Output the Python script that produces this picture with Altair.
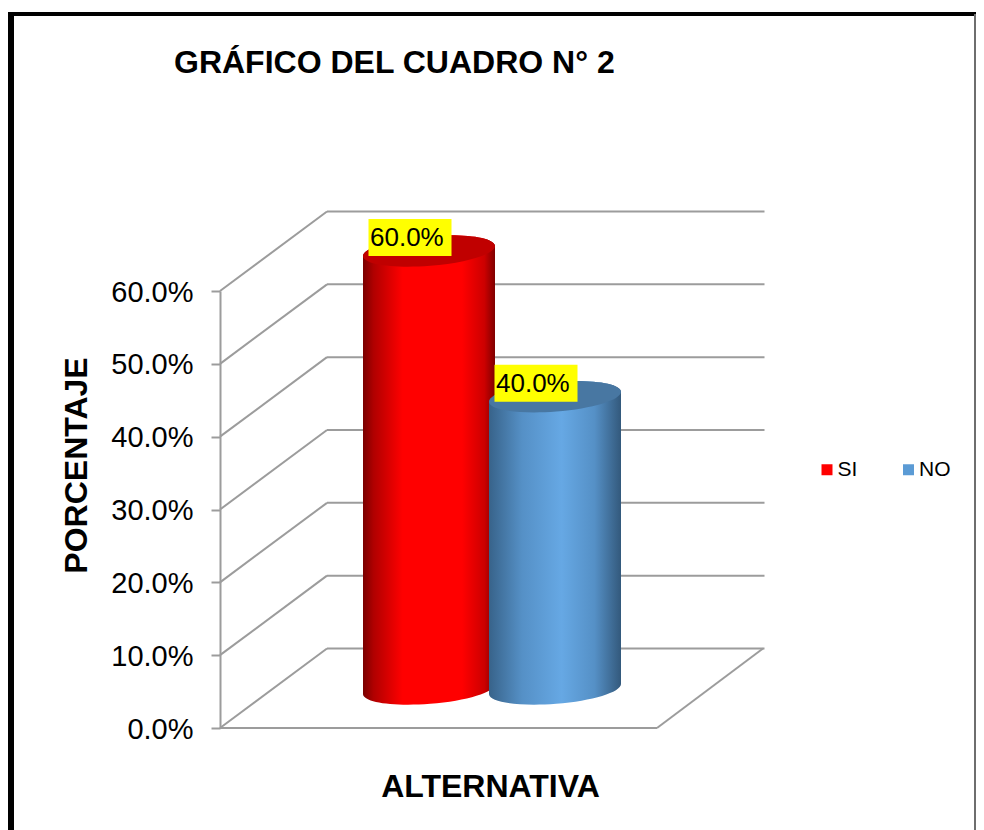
import altair as alt
import pandas as pd

categories = ["SI", "NO"]
values = [0.6, 0.4]
ticks = [0.0, 0.1, 0.2, 0.3, 0.4, 0.5, 0.6]
series_colors = ["#ff0000", "#5b9bd5"]
top_colors = ["#c00000", "#4877a2"]
gradient_stops = [
    [(0, "#7a0000"), (0.08, "#b00000"), (0.3, "#ff0000"), (0.75, "#ff0000"), (0.92, "#cc0000"), (1, "#800000")],
    [(0, "#38638a"), (0.25, "#5590c6"), (0.55, "#66a8e4"), (0.8, "#5590c6"), (1, "#33597c")],
]

W, H = 437, 437
DX, DY = 107, -79.5
FONT = "Liberation Sans"
GRID = "#9c9c9c"

df = pd.DataFrame({"cat": categories, "v": values, "base": [0.0, 0.0]})
grid = pd.DataFrame({"t": ticks})
zero = pd.DataFrame({"t": [0.0]})

x_scale = alt.Scale(type="point", padding=0, domain=categories, range=[209, 335])
y_scale = alt.Scale(domain=[0, 0.6], nice=False, zero=True)

x_axis = alt.Axis(
    labels=False, ticks=False, domain=False, grid=False, title="ALTERNATIVA",
    titleFont=FONT, titleFontSize=32, titleFontWeight="bold", titleColor="#000000",
    titleX=270, titleY=58, titleBaseline="middle", titleAlign="center",
)
y_axis = alt.Axis(
    values=ticks, format=".1%", grid=False, tickSize=9, tickColor=GRID, tickWidth=2,
    domainColor=GRID, domainWidth=2, labelFont=FONT, labelFontSize=29, labelColor="#000000",
    labelPadding=18, labelOffset=1, title="PORCENTAJE", titleFont=FONT, titleFontSize=32, titleFontWeight="bold",
    titleColor="#000000", titleX=-143.5, titleY=174, titleBaseline="middle", titleAlign="center",
)
x_enc = alt.X("cat:N", scale=x_scale, sort=categories, axis=x_axis)
y_enc = alt.Y("v:Q", scale=y_scale, axis=y_axis)


def rule(data, x0, x1, off0, off1, color=GRID, w=2):
    return alt.Chart(data).mark_rule(color=color, strokeWidth=w, yOffset=off0, y2Offset=off1).encode(
        x=alt.value(x0), x2=alt.value(x1),
        y=alt.Y("t:Q", scale=y_scale, axis=y_axis), y2=alt.Y2("t:Q"),
    )


back = rule(grid, DX, W + DX + 0.5, DY, DY)
left_wall = rule(grid, 0, DX, 0, DY)
floor_front = rule(zero, 0, W, 0, 0)
floor_right = rule(zero, W, W + DX - 1, 0, DY)

legend_bars = alt.Chart(df).mark_bar(size=130, yOffset=-34, y2Offset=-46).encode(
    x=x_enc,
    y=y_enc, y2=alt.Y2("base:Q"),
    color=alt.Color(
        "cat:N",
        scale=alt.Scale(domain=categories, range=series_colors),
        legend=alt.Legend(
            title=None, orient="none", legendX=596.5, legendY=168, direction="horizontal", columns=2,
            symbolType="square", symbolSize=121, symbolStrokeWidth=0, labelFont=FONT, labelFontSize=21,
            labelColor="#000000", columnPadding=40.5, labelOffset=0, padding=0,
        ),
    ),
)

TOP_ELLIPSE = "M-1,0.08 A1.003,0.226 -4.57 1,1 1,-0.08 A1.003,0.226 -4.57 1,1 -1,0.08 Z"
TOP_CAP = "M-1,0.08 A1.003,0.226 -4.57 1,1 1,-0.08 L1,0.2 L-1,0.2 Z"
BOTTOM_CAP = "M-1,-0.2 L1,-0.2 L1,-0.08 A1.003,0.226 -4.57 0,1 -1,0.08 Z"

layers = [back, left_wall, floor_front, floor_right, legend_bars]

for i, cat in enumerate(categories):
    grad = alt.Gradient(
        gradient="linear", x1=0, x2=1, y1=0, y2=0,
        stops=[alt.GradientStop(offset=o, color=c) for o, c in gradient_stops[i]],
    )
    sub = alt.Chart(df).transform_filter(alt.datum.cat == cat)
    layers.append(sub.mark_bar(size=132, yOffset=-34, y2Offset=-46, fill=grad).encode(
        x=x_enc, y=y_enc, y2=alt.Y2("base:Q")))
    size = 132 ** 2
    layers.append(sub.mark_point(shape=BOTTOM_CAP, size=size, filled=True, fill=grad, opacity=1, strokeWidth=0, yOffset=-39).encode(
        x=x_enc, y=alt.Y("base:Q", scale=y_scale, axis=y_axis)))
    layers.append(sub.mark_point(shape=TOP_CAP, size=size, filled=True, fill=grad, opacity=1, strokeWidth=0, yOffset=-40).encode(
        x=x_enc, y=y_enc))
    layers.append(sub.mark_point(shape=TOP_ELLIPSE, size=size, filled=True, fill=top_colors[i], opacity=1, strokeWidth=0, yOffset=-40).encode(
        x=x_enc, y=y_enc))

label_box = alt.Chart(df).mark_bar(size=83, color="#ffff00", xOffset=-19, yOffset=-72, y2Offset=-35).encode(
    x=x_enc, y=y_enc, y2=alt.Y2("v:Q"))
label_text = alt.Chart(df).mark_text(
    font=FONT, fontSize=26, color="#000000", align="left", baseline="middle", dx=-59, dy=-53,
).encode(x=x_enc, y=y_enc, text=alt.Text("v:Q", format=".1%"))
layers += [label_box, label_text]

frame_top = alt.Chart(zero).mark_rule(color="#000000", strokeWidth=4).encode(
    x=alt.value(-212), x2=alt.value(756), y=alt.value(-277))
frame_left = alt.Chart(zero).mark_rule(color="#000000", strokeWidth=6).encode(
    x=alt.value(-209), y=alt.value(-279), y2=alt.value(540))
frame_right = alt.Chart(zero).mark_rule(color="#6e6e6e", strokeWidth=2).encode(
    x=alt.value(755), y=alt.value(-277), y2=alt.value(540))
layers += [frame_top, frame_left, frame_right]

chart = alt.layer(*layers).properties(
    width=W, height=H,
    padding={"left": 212, "top": 283, "right": 319, "bottom": 102},
    autosize=alt.AutoSizeParams(type="none"),
    background="#ffffff",
    title=alt.TitleParams(
        text="GRÁFICO DEL CUADRO N° 2", anchor="start", frame="group", dx=-46, offset=-71,
        font=FONT, fontSize=32, fontWeight="bold", color="#000000",
    ),
).configure_view(stroke=None)

chart.save("out.html", embed_options={"renderer": "svg", "actions": False})
